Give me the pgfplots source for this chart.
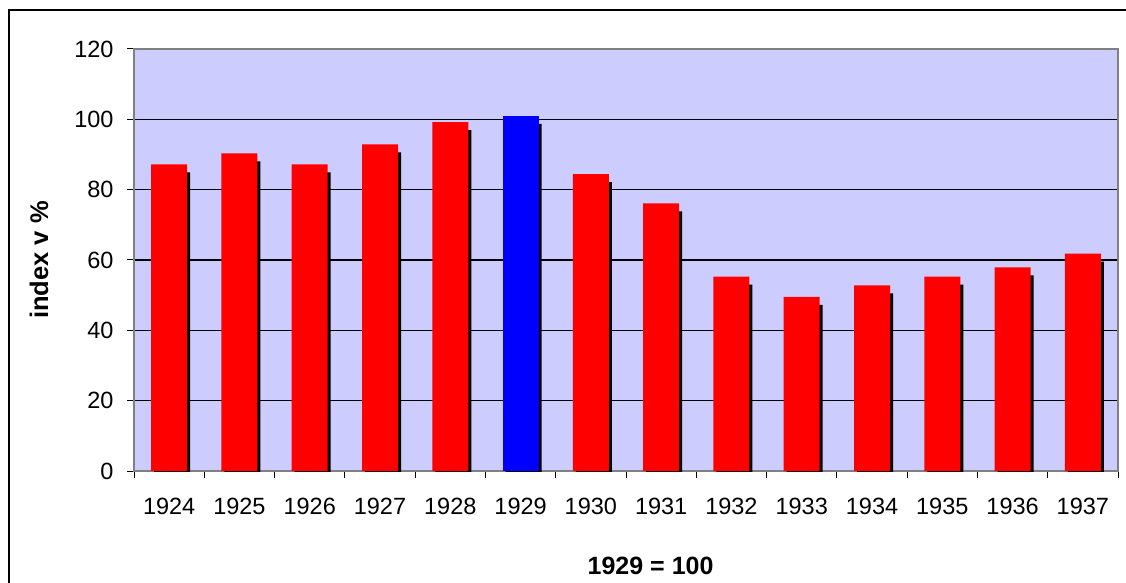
\documentclass[border=0pt]{standalone}
\usepackage{fontspec}
\setmainfont{Liberation Sans}
\usepackage{pgfplots}
\pgfplotsset{compat=1.18}
\definecolor{plotbg}{HTML}{CCCCFF}
\definecolor{framegray}{HTML}{808080}
\begin{document}
\begin{tikzpicture}[x=1pt,y=1pt]
\useasboundingbox (0,0) rectangle (1126,583);
\draw[line width=1.5pt] (9,-5) -- (9,573) -- (1131,573);
\begin{axis}[
  at={(134pt,112pt)}, anchor=south west,
  scale only axis, width=984pt, height=422pt,
  xmin=-0.5, xmax=13.5, ymin=0, ymax=120,
  axis background/.style={fill=plotbg},
  ytick={0,20,...,120},
  ymajorgrids, grid style={black, line width=1.2pt},
  xtick={-0.5,0.5,...,13.5}, xticklabels={},
  extra x ticks={0,1,...,13},
  extra x tick labels={1924,1925,1926,1927,1928,1929,1930,1931,1932,1933,1934,1935,1936,1937},
  extra x tick style={major tick length=0pt, xticklabel style={yshift=-24pt}},
  tick align=outside, xtick pos=bottom, ytick pos=left,
  major tick length=7pt,
  tick style={black, line width=1pt},
  axis line style={draw=framegray, line width=2pt},
  /pgf/number format/assume math mode=true,
  ticklabel style={font=\fontsize{23.5}{27}\selectfont},
  yticklabel style={xshift=-10pt},
  xlabel={1929 = 100}, ylabel={index v \%},
  every axis x label/.style={at={(axis description cs:0.525,-0.225)}, anchor=center, font=\bfseries\fontsize{25}{29}\selectfont},
  every axis y label/.style={at={(axis description cs:-0.0965,0.5)}, anchor=center, rotate=90, font=\bfseries\fontsize{25.5}{29}\selectfont},
  clip=true,
]
\addplot[ybar, bar width=36pt, bar shift=3pt, fill=black, draw=none, yshift=-8pt] coordinates {
(0,87.2) (1,90.3) (2,87.2) (3,92.9) (4,99.2) (5,101) (6,84.4) (7,76.1) (8,55.3) (9,49.5) (10,52.8) (11,55.3) (12,57.9) (13,61.8)};
\addplot[ybar, bar width=36pt, bar shift=0pt, fill=red, draw=none] coordinates {
(0,87.2) (1,90.3) (2,87.2) (3,92.9) (4,99.2) (6,84.4) (7,76.1) (8,55.3) (9,49.5) (10,52.8) (11,55.3) (12,57.9) (13,61.8)};
\addplot[ybar, bar width=36pt, bar shift=0pt, fill=blue, draw=none] coordinates {(5,101)};
\end{axis}
\end{tikzpicture}
\end{document}
